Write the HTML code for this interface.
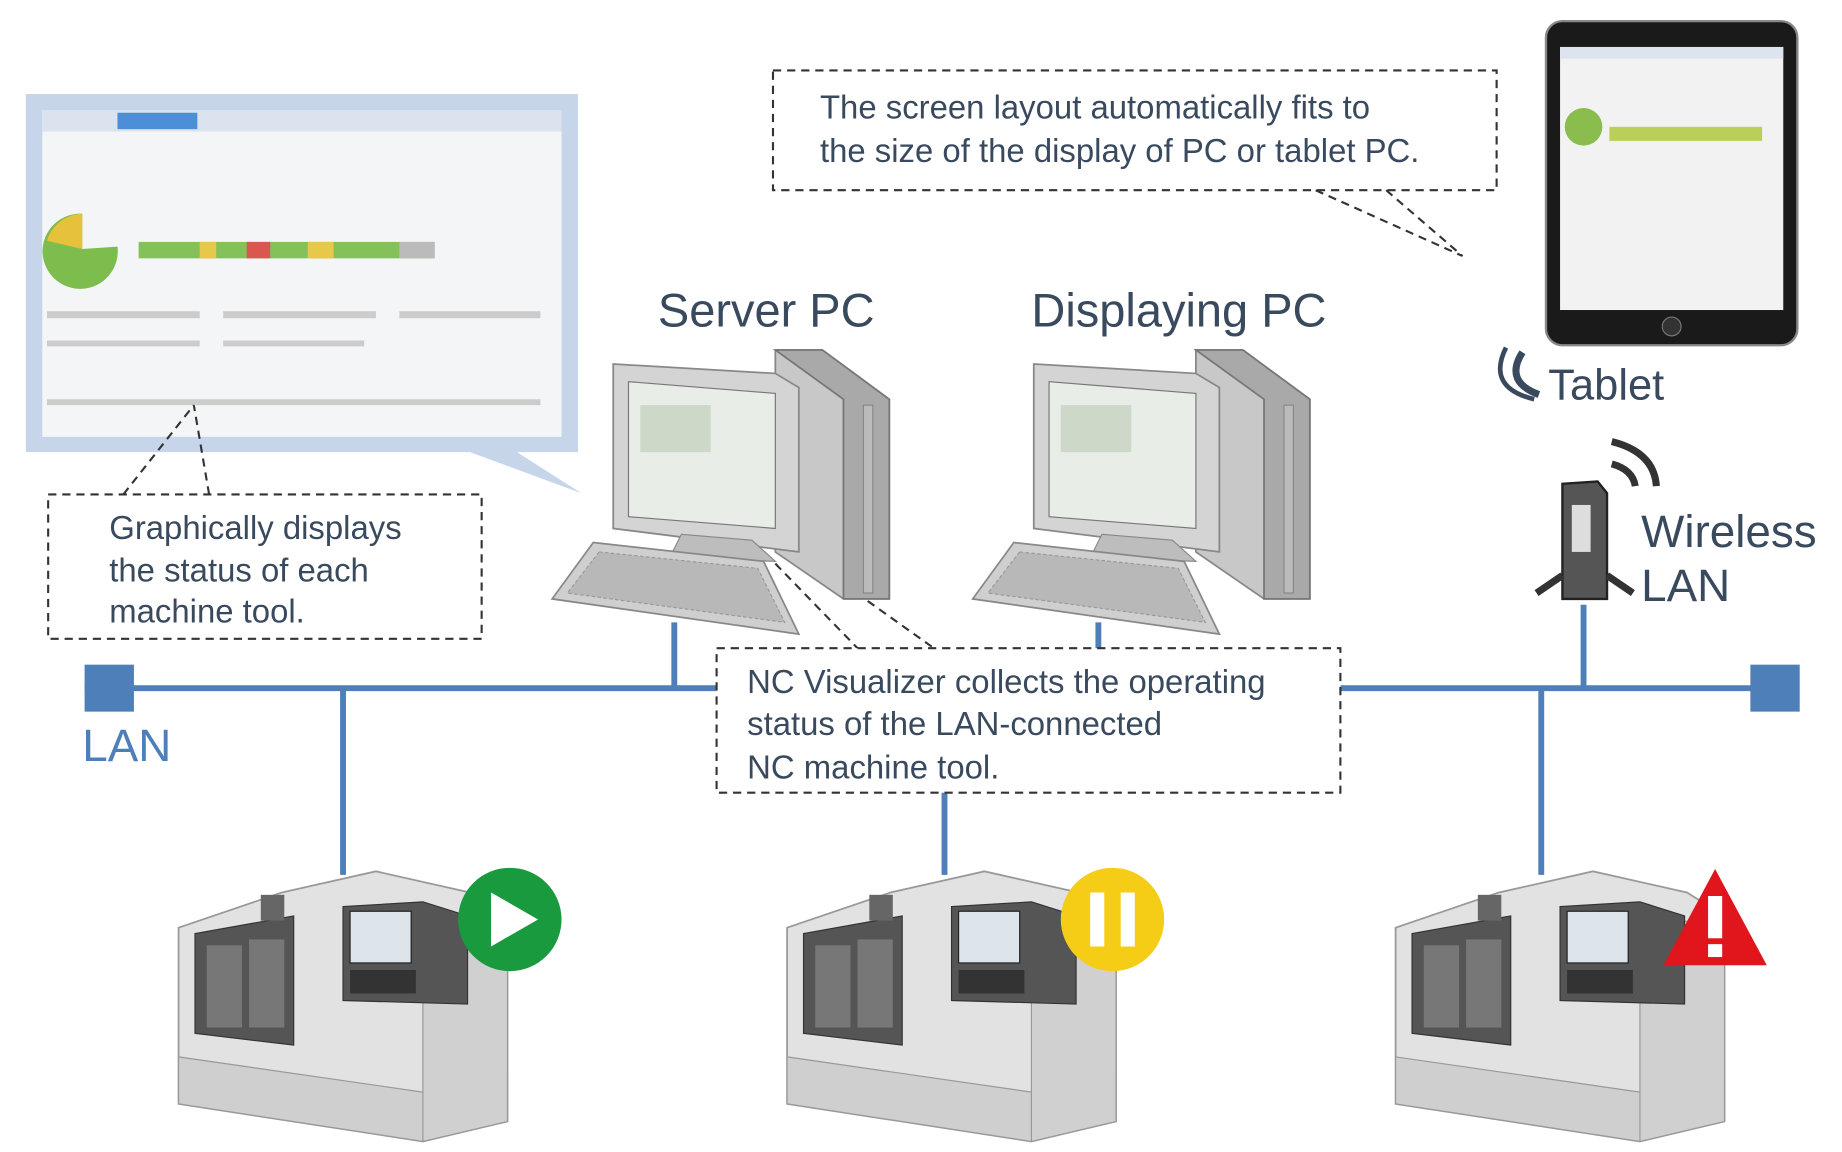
<!DOCTYPE html>
<html><head><meta charset="utf-8"><style>
html,body{margin:0;padding:0;background:#fff;}
svg{display:block;}
text{font-family:"Liberation Sans",sans-serif;fill:#3a4a5e;}
</style></head><body>
<svg width="1842" height="1152" viewBox="0 0 1568 981" preserveAspectRatio="none" xmlns="http://www.w3.org/2000/svg">
<defs>
<g id="pc">
  <polygon points="660,298 700,298 757,340 757,510 718,510 660,470" fill="#c8c8c8" stroke="#888" stroke-width="1.5"/>
  <polygon points="700,298 757,340 757,510 718,510 718,340 660,298" fill="#a9a9a9" stroke="#777" stroke-width="1.5"/>
  <rect x="735" y="345" width="8" height="160" fill="#bbb" stroke="#888"/>
  <polygon points="522,310 660,318 680,330 680,470 522,450" fill="#d4d4d4" stroke="#888" stroke-width="1.5"/>
  <polygon points="535,325 660,335 660,450 535,440" fill="#e8ede8" stroke="#777"/>
  <rect x="545" y="345" width="60" height="40" fill="#cdd8c8"/>
  <polygon points="580,455 640,460 660,478 570,475" fill="#bdbdbd" stroke="#888"/>
  <polygon points="505,462 650,478 680,540 470,510" fill="#cfcfcf" stroke="#888" stroke-width="1.5"/>
  <polygon points="510,470 645,484 668,530 483,505" fill="#b8b8b8" stroke="#999" stroke-dasharray="3 2"/>
</g>
<g id="machine">
  <polygon points="152,790 240,760 320,742 400,760 432,780 432,955 360,972 152,940" fill="#e2e2e2" stroke="#999" stroke-width="1.5"/>
  <polygon points="152,900 360,930 432,915 432,955 360,972 152,940" fill="#cfcfcf" stroke="#999"/>
  <polygon points="360,790 432,780 432,955 360,972" fill="#d0d0d0" stroke="#999"/>
  <polygon points="166,795 250,780 250,890 166,880" fill="#555" stroke="#333"/>
  <rect x="176" y="805" width="30" height="70" fill="#777"/>
  <rect x="212" y="800" width="30" height="75" fill="#777"/>
  <rect x="222" y="762" width="20" height="22" fill="#666"/>
  <polygon points="292,772 360,768 398,780 398,855 292,852" fill="#555" stroke="#333"/>
  <rect x="298" y="776" width="52" height="44" fill="#dde4ea" stroke="#222"/>
  <rect x="298" y="826" width="56" height="20" fill="#333"/>
</g>
</defs>

<polygon points="22,80 492,80 492,385 440,385 495,420 400,385 22,385" fill="#c7d5ea"/>
<rect x="36" y="94" width="442" height="278" fill="#f4f5f6"/>
<rect x="36" y="94" width="442" height="18" fill="#dbe4ee"/>
<rect x="100" y="96" width="68" height="14" fill="#4d8fd6"/>
<path d="M70,182 A32,32 0 1 0 100,210 L70,212 Z" fill="#7cbd4e"/>
<path d="M70,182 A32,32 0 0 0 40,205 L70,212 Z" fill="#e6c13c"/>
<rect x="118" y="206" width="252" height="14" fill="#85c15a"/>
<rect x="170" y="206" width="14" height="14" fill="#e8c84a"/>
<rect x="210" y="206" width="20" height="14" fill="#d9574f"/>
<rect x="262" y="206" width="22" height="14" fill="#e8c84a"/>
<rect x="340" y="206" width="30" height="14" fill="#bbb"/>
<g fill="#ccc"><rect x="40" y="265" width="130" height="6"/><rect x="40" y="290" width="130" height="5"/><rect x="190" y="265" width="130" height="6"/><rect x="190" y="290" width="120" height="5"/><rect x="340" y="265" width="120" height="6"/><rect x="40" y="340" width="420" height="5"/></g>

<g fill="none" stroke="#333" stroke-width="1.8" stroke-dasharray="7 5">
<rect x="41" y="421" width="369" height="123"/>
<path d="M105,421 L165,345 M178,421 L165,345"/>
<rect x="658" y="60" width="616" height="102"/>
<path d="M1120,162 L1245,218 M1180,162 L1245,218"/>
<path d="M660,480 L730,552 M680,470 L795,552"/>
</g>
<text x="93" y="459" font-size="28">Graphically displays</text>
<text x="93" y="495" font-size="28">the status of each</text>
<text x="93" y="530" font-size="28">machine tool.</text>
<text x="698" y="101" font-size="28">The screen layout automatically fits to</text>
<text x="698" y="138" font-size="28">the size of the display of PC or tablet PC.</text>

<rect x="1316" y="18" width="214" height="276" rx="14" fill="#1a1a1a" stroke="#888" stroke-width="2"/>
<rect x="1328" y="40" width="190" height="224" fill="#f2f2f2"/>
<rect x="1328" y="40" width="190" height="10" fill="#dde4ee"/>
<rect x="1370" y="108" width="130" height="12" fill="#b9cf5a"/>
<circle cx="1348" cy="108" r="16" fill="#8bbd4e"/>
<circle cx="1423" cy="278" r="8" fill="#333" stroke="#777"/>
<path d="M1296,300 Q1280,325 1310,336" fill="none" stroke="#3a4a5e" stroke-width="6"/>
<path d="M1282,296 Q1265,330 1306,340" fill="none" stroke="#3a4a5e" stroke-width="4"/>
<text x="1318" y="340" font-size="37">Tablet</text>

<text x="560" y="278" font-size="40">Server PC</text>
<text x="878" y="278" font-size="40">Displaying PC</text>

<g stroke="#4f7fb8" stroke-width="5" fill="none">
<path d="M72,586 H610 M1141,586 H1530"/>
<path d="M292,586 V745 M574,530 V586 M935,530 V552 M1348,515 V586 M804,675 V745 M1312,586 V745"/>
</g>
<rect x="72" y="566" width="42" height="40" fill="#4f7fb8"/>
<rect x="1490" y="566" width="42" height="40" fill="#4f7fb8"/>
<text x="70" y="648" font-size="39" style="fill:#4f7fb8">LAN</text>

<use href="#pc"/>
<use href="#pc" transform="translate(358,0)"/>

<polygon points="1330,412 1360,410 1368,420 1368,510 1330,510" fill="#555" stroke="#222" stroke-width="2"/>
<rect x="1338" y="430" width="16" height="40" fill="#ddd"/>
<path d="M1330,490 L1308,505 M1368,490 L1390,505" stroke="#333" stroke-width="6"/>
<path d="M1372,395 Q1390,400 1392,414" fill="none" stroke="#333" stroke-width="6"/>
<path d="M1372,376 Q1408,385 1410,414" fill="none" stroke="#333" stroke-width="6"/>
<text x="1397" y="466" font-size="39">Wireless</text>
<text x="1397" y="512" font-size="39">LAN</text>

<rect x="610" y="552" width="531" height="123" fill="#fff" stroke="#333" stroke-width="1.8" stroke-dasharray="7 5"/>
<text x="636" y="590" font-size="28">NC Visualizer collects the operating</text>
<text x="636" y="626" font-size="28">status of the LAN-connected</text>
<text x="636" y="663" font-size="28">NC machine tool.</text>

<use href="#machine"/>
<use href="#machine" transform="translate(518,0)"/>
<use href="#machine" transform="translate(1036,0)"/>

<circle cx="434" cy="783" r="44" fill="#1a9a3e"/>
<polygon points="418,760 418,806 458,783" fill="#fff"/>
<circle cx="947" cy="783" r="44" fill="#f5cc16"/>
<rect x="928" y="760" width="12" height="46" fill="#fff"/>
<rect x="954" y="760" width="12" height="46" fill="#fff"/>
<polygon points="1460,740 1504,822 1416,822" fill="#e0161c"/>
<rect x="1454" y="763" width="12" height="36" fill="#fff"/>
<rect x="1454" y="804" width="12" height="11" fill="#fff"/>
</svg>
</body></html>
